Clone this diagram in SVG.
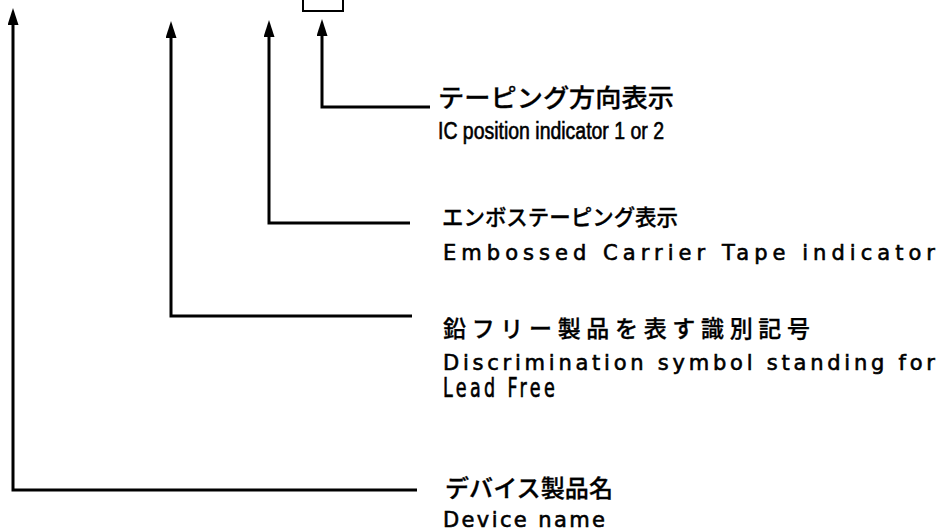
<svg xmlns="http://www.w3.org/2000/svg" width="946" height="532" viewBox="0 0 946 532">
<defs>
<marker id="ah" viewBox="0 0 17 11" refX="1" refY="5.5" markerWidth="17" markerHeight="11" markerUnits="userSpaceOnUse" orient="auto">
<path d="M0,0 L17,5.5 L0,11 z" fill="#000"/>
</marker>
<style>
.ln{fill:none;stroke:#000;stroke-width:3;marker-end:url(#ah)}
.jp{font-family:"Noto Sans CJK JP","Noto Sans CJK SC",sans-serif;font-size:24px;font-weight:500;fill:#000;stroke:#000;stroke-width:0.3}
.en{font-family:"DejaVu Sans","Liberation Sans",sans-serif;font-size:21px;fill:#000;stroke:#000;stroke-width:0.6}
</style>
</defs>
<rect x="303" y="-3" width="40" height="14" fill="none" stroke="#000" stroke-width="2"/>
<g id="connectors">
<path class="ln" d="M430,107 H322 V35"/>
<path class="ln" d="M410,223 H269 V36"/>
<path class="ln" d="M412,316 H171 V37"/>
<path class="ln" d="M417,490 H13 V24"/>
</g>
<g id="taping-direction">
<text class="jp" x="438" y="107" style="font-size:25px" textLength="236" lengthAdjust="spacingAndGlyphs">テーピング方向表示</text>
<text class="en" x="438" y="139" style="font-family:'Liberation Sans',sans-serif;font-size:23px" textLength="226" lengthAdjust="spacingAndGlyphs">IC position indicator 1 or 2</text>
</g>
<g id="embossed">
<text class="jp" x="442" y="225" style="font-size:22px" textLength="236" lengthAdjust="spacingAndGlyphs">エンボステーピング表示</text>
<text class="en" x="443" y="260" textLength="492" lengthAdjust="spacing">Embossed Carrier Tape indicator</text>
</g>
<g id="lead-free">
<text class="jp" x="443" y="337" style="font-size:23px" textLength="367" lengthAdjust="spacing">鉛フリー製品を表す識別記号</text>
<text class="en" x="443" y="370" textLength="492" lengthAdjust="spacing">Discrimination symbol standing for</text>
<text class="en" transform="translate(443,397) scale(0.75,1)" x="0" y="0" style="font-size:26px;font-family:'DejaVu Sans Condensed','DejaVu Sans',sans-serif" textLength="149" lengthAdjust="spacing">Lead Free</text>
</g>
<g id="device-name">
<text class="jp" x="445" y="497" textLength="168" lengthAdjust="spacingAndGlyphs">デバイス製品名</text>
<text class="en" x="443" y="527" textLength="162" lengthAdjust="spacing">Device name</text>
</g>
</svg>
